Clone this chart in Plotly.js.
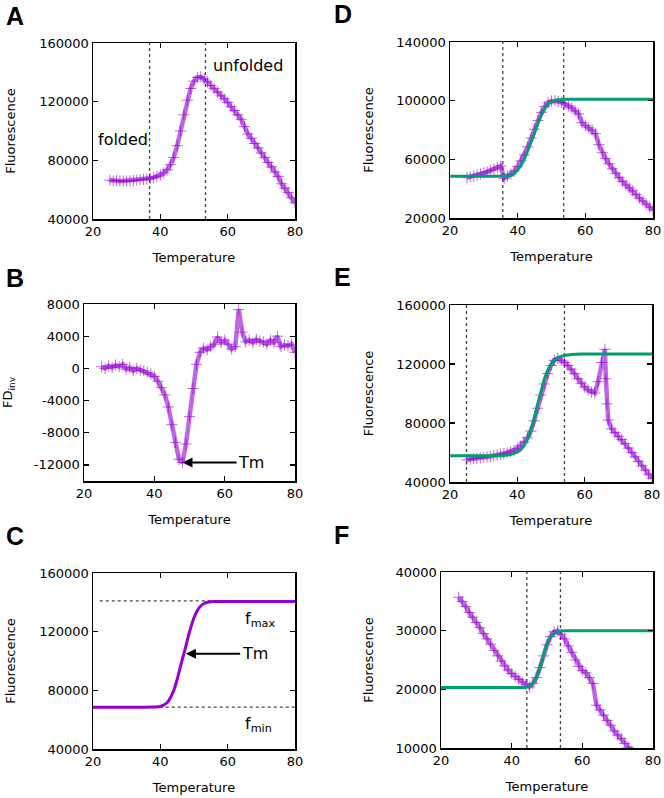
<!DOCTYPE html>
<html>
<head>
<meta charset="utf-8">
<script src="https://cdn.plot.ly/plotly-3.0.1.min.js"></script>
<style>
  html, body { margin: 0; padding: 0; background: #fff; }
  #chart { width: 664px; height: 798px; }
</style>
</head>
<body>
<div id="chart"></div>
<script>
// temperatures of the melt scan (deg C)
const tempScan = [25, 26, 27, 28, 29, 30, 31, 32, 33, 34, 35, 36, 37, 38, 39, 40, 41, 42, 43, 44, 45, 46, 47, 48, 49, 50, 51, 52, 53, 54, 55, 56, 57, 58, 59, 60, 61, 62, 63, 64, 65, 66, 67, 68, 69, 70, 71, 72, 73, 74, 75, 76, 77, 78, 79, 80];

// A: raw fluorescence
const fluorA = [66500, 66000, 66200, 65800, 66000, 65800, 66000, 66200, 66500, 66800, 67000, 67300, 67800, 68200, 69000, 70000, 71500, 73500, 77000, 82000, 90000, 100000, 111000, 121000, 129000, 134000, 136500, 137000, 135500, 133500, 131000, 129000, 126500, 124000, 122000, 119500, 116500, 114000, 111000, 108000, 103000, 98000, 95000, 91500, 88500, 85000, 82000, 78500, 75500, 72000, 69000, 64000, 61000, 58000, 54500, 51000];
const boundsA = [36.8, 53.4];

// B: inverted first derivative
const fdInv = [200, 0, 300, 100, 400, 200, 500, -100, 100, -300, 0, -200, -300, -500, -700, -1000, -1600, -2400, -3300, -4800, -7000, -9200, -11300, -11700, -9400, -6000, -2500, 500, 2000, 2500, 2300, 2700, 3000, 3900, 3200, 3500, 3000, 2400, 2700, 7300, 4500, 3300, 3500, 3200, 3600, 3400, 3300, 3000, 3500, 3200, 4000, 2700, 2900, 2800, 3000, 2000];
const tmB = 48;

// C: idealised Boltzmann curve
const tempC = [20, 30, 38, 40, 41, 42, 43, 44, 45, 46, 47, 48, 49, 50, 51, 52, 53, 54, 56, 60, 70, 80];
const fluorC = [68500, 68500, 68600, 69000, 70000, 71500, 75000, 80000, 87500, 96500, 105000, 114000, 122500, 129500, 134500, 137500, 139200, 140000, 140500, 140500, 140500, 140500];
const fMax = 141000;
const fMin = 68500;
const tmC = 47.6;
const tmCFluor = 105000;

// D
const fluorD = [47500, 48000, 48500, 49300, 50000, 50800, 51500, 52500, 53300, 54300, 55500, 47000, 48500, 50000, 52000, 55000, 59000, 63000, 68500, 74500, 80500, 86500, 92000, 96000, 98500, 99800, 100000, 99500, 98800, 97800, 96500, 95000, 93000, 91000, 85000, 83000, 81500, 80000, 77500, 70000, 64500, 60500, 57000, 53500, 50500, 47500, 45000, 42500, 40500, 38500, 36000, 33500, 31500, 29500, 27500, 25500];
const fitTemp = [20, 30, 36, 38, 39, 40, 41, 42, 43, 44, 45, 46, 47, 48, 49, 50, 51, 52, 53, 54, 56, 60, 70, 80];
const fitD = [48500, 48500, 48600, 49000, 50500, 53000, 56000, 60500, 66000, 72000, 78000, 84500, 90000, 94500, 97500, 99300, 100200, 100600, 100800, 100900, 101000, 101000, 101000, 101000];
const boundsD = [35.6, 53.6];

// E
const tempE = [25, 26, 27, 28, 29, 30, 31, 32, 33, 34, 35, 36, 37, 38, 39, 40, 41, 42, 43, 44, 45, 46, 47, 48, 49, 50, 51, 52, 53, 54, 55, 56, 57, 58, 59, 60, 61, 62, 63, 64, 65, 66, 66.3, 66.6, 67, 68, 69, 70, 71, 72, 73, 74, 75, 76, 77, 78, 79, 80];
const fluorE = [55000, 55500, 55800, 56000, 56300, 56800, 57000, 57300, 57800, 58300, 58800, 59300, 59800, 60500, 61500, 62800, 64500, 67000, 70000, 74500, 81500, 90000, 99000, 106500, 113500, 119000, 122500, 123800, 122500, 121000, 119000, 116500, 113500, 110000, 107000, 104500, 102500, 101000, 100300, 108000, 121000, 130000, 110000, 93000, 82000, 76000, 73500, 71000, 68800, 66000, 63000, 60000, 57000, 54000, 51000, 48000, 45300, 42500];
const fitE = [57800, 57800, 58000, 58700, 59500, 60500, 62000, 65000, 69000, 75000, 83000, 92500, 101000, 109500, 115500, 119800, 122500, 124200, 125200, 125800, 126500, 126800, 126800, 126800];
const boundsE = [24.9, 54.0];

// F
const fluorF = [35700, 35000, 34100, 33100, 32300, 31400, 30500, 29500, 28600, 27700, 26600, 25700, 24800, 24000, 23300, 22700, 22200, 21700, 21200, 20800, 20400, 21000, 22000, 23700, 25700, 27600, 29000, 29800, 30000, 29400, 28600, 27400, 26300, 25000, 23900, 23200, 22800, 22000, 21000, 17300, 16500, 15600, 14700, 13900, 12900, 12200, 11600, 10800, 10100, 9400, 8700, 8000, 7300, 6700, 6000, 5400];
const fitTempF = [20, 30, 40, 44, 45, 46, 47, 48, 49, 50, 51, 52, 53, 54, 56, 60, 70, 80];
const fitF = [20300, 20300, 20300, 20350, 20500, 21000, 22000, 23700, 25800, 27700, 28900, 29500, 29800, 29950, 30000, 30000, 30000, 30000];
const boundsF = [44.3, 53.8];

// y ranges and ticks per panel
const rangeA = [40000, 160000], ticksA = [40000, 80000, 120000, 160000];
const rangeB = [-14000, 8000], ticksB = [-12000, -8000, -4000, 0, 4000, 8000];
const rangeC = [40000, 160000], ticksC = [40000, 80000, 120000, 160000];
const rangeD = [20000, 140000], ticksD = [20000, 60000, 100000, 140000];
const rangeE = [40000, 160000], ticksE = [40000, 80000, 120000, 160000];
const rangeF = [10000, 40000], ticksF = [10000, 20000, 30000, 40000];
const tempTicks = [20, 40, 60, 80];

const purple = "#9400d3";
const green = "#009e73";
const font = "DejaVu Sans";

function scan(x, y, n) {
  return {
    x: x, y: y, xaxis: "x" + n, yaxis: "y" + n,
    type: "scatter", mode: "lines+markers", showlegend: false,
    line: { color: "rgba(148,0,211,0.6)", width: 4.5 },
    marker: { symbol: "cross-thin-open", size: 8, line: { color: purple, width: 1 } }
  };
}
function fit(x, y, n, color) {
  return {
    x: x, y: y, xaxis: "x" + n, yaxis: "y" + n,
    type: "scatter", mode: "lines", showlegend: false,
    line: { color: color, width: 3, shape: "spline" }
  };
}
function vlines(bounds, range, n) {
  return bounds.map(b => ({
    x: [b, b], y: [range[0], range[1]], xaxis: "x" + n, yaxis: "y" + n,
    type: "scatter", mode: "lines", showlegend: false,
    line: { color: "#444", width: 1.3, dash: "dot" }
  }));
}
function hline(val, n) {
  return {
    x: [22, 80], y: [val, val], xaxis: "x" + n, yaxis: "y" + n,
    type: "scatter", mode: "lines", showlegend: false,
    line: { color: "#444", width: 1.3, dash: "dot" }
  };
}

const data = [
  ...vlines(boundsA, rangeA, ""), scan(tempScan, fluorA, ""),
  scan(tempScan, fdInv, 2),
  hline(fMax, 3), hline(fMin, 3), fit(tempC, fluorC, 3, purple),
  ...vlines(boundsD, rangeD, 4), scan(tempScan, fluorD, 4), fit(fitTemp, fitD, 4, green),
  ...vlines(boundsE, rangeE, 5), scan(tempE, fluorE, 5), fit(fitTemp, fitE, 5, green),
  ...vlines(boundsF, rangeF, 6), scan(tempScan, fluorF, 6), fit(fitTempF, fitF, 6, green)
];

// common axis styling, gnuplot-like frame with inward ticks
function xAxis(dom, anchor) {
  return {
    domain: dom, anchor: anchor, range: [20, 80], tickvals: tempTicks,
    ticks: "inside", ticklen: 5, tickwidth: 1.2, tickcolor: "#000",
    showline: true, linecolor: "#000", linewidth: 1.5, mirror: "ticks",
    showgrid: false, zeroline: false,
    tickfont: { family: font, size: 13, color: "#000" },
    title: { text: "Temperature", font: { family: font, size: 13, color: "#000" }, standoff: 15 }
  };
}
function yAxis(dom, anchor, range, ticks, label, standoff) {
  return {
    domain: dom, anchor: anchor, range: range, tickvals: ticks, ticktext: ticks.map(String),
    ticks: "inside", ticklen: 5, tickwidth: 1.2, tickcolor: "#000",
    showline: true, linecolor: "#000", linewidth: 1.5, mirror: "ticks",
    showgrid: false, zeroline: false,
    tickfont: { family: font, size: 13, color: "#000" },
    title: { text: label, font: { family: font, size: 13, color: "#000" }, standoff: standoff }
  };
}

const W = 664, H = 798;
const xd = (a, b) => [a / W, b / W];
const yd = (top, bottom) => [1 - bottom / H, 1 - top / H];

const annText = { family: font, size: 16, color: "#000" };
function letter(t, x, y) {
  return {
    text: "<b>" + t + "</b>", xref: "paper", yref: "paper", x: x / W, y: 1 - y / H,
    xanchor: "left", yanchor: "middle", showarrow: false,
    font: { family: "Liberation Sans", size: 25, color: "#000" }
  };
}

const layout = {
  width: W, height: H,
  margin: { l: 0, r: 0, t: 0, b: 0 },
  paper_bgcolor: "#fff", plot_bgcolor: "#fff",
  xaxis: xAxis(xd(93, 295), "y"),
  yaxis: yAxis(yd(43, 219), "x", rangeA, ticksA, "Fluorescence", 20),
  xaxis2: xAxis(xd(84, 295), "y2"),
  yaxis2: yAxis(yd(304, 481), "x2", rangeB, ticksB, "FD<sub>inv</sub>", 18),
  xaxis3: xAxis(xd(93, 295), "y3"),
  yaxis3: yAxis(yd(573, 749), "x3", rangeC, ticksC, "Fluorescence", 20),
  xaxis4: xAxis(xd(450, 653), "y4"),
  yaxis4: yAxis(yd(42, 218), "x4", rangeD, ticksD, "Fluorescence", 19),
  xaxis5: xAxis(xd(450, 652), "y5"),
  yaxis5: yAxis(yd(305, 482), "x5", rangeE, ticksE, "Fluorescence", 19),
  xaxis6: xAxis(xd(441, 653), "y6"),
  yaxis6: yAxis(yd(572, 748), "x6", rangeF, ticksF, "Fluorescence", 19),
  annotations: [
    letter("A", 4, 16), letter("B", 4, 278), letter("C", 4, 536),
    letter("D", 332, 14), letter("E", 332, 277), letter("F", 332, 535),
    { text: "folded", xref: "x", yref: "y", x: 36.8, y: 94000, xanchor: "right", showarrow: false, font: annText },
    { text: "unfolded", xref: "x", yref: "y", x: 55, y: 144500, xanchor: "left", showarrow: false, font: annText },
    { text: "Tm", xref: "x2", yref: "y2", x: tmB, y: fdInv[23], axref: "x2", ayref: "y2", ax: 67.5, ay: fdInv[23],
      showarrow: true, arrowhead: 2, arrowsize: 1, arrowwidth: 2, arrowcolor: "#000", font: annText },
    { text: "Tm", xref: "x3", yref: "y3", x: tmC, y: tmCFluor, axref: "x3", ayref: "y3", ax: 68, ay: tmCFluor,
      showarrow: true, arrowhead: 2, arrowsize: 1, arrowwidth: 2, arrowcolor: "#000", font: annText },
    { text: "f<sub>max</sub>", xref: "x3", yref: "y3", x: 64.5, y: 128000, xanchor: "left", showarrow: false, font: annText },
    { text: "f<sub>min</sub>", xref: "x3", yref: "y3", x: 64.5, y: 56500, xanchor: "left", showarrow: false, font: annText }
  ]
};

Plotly.newPlot("chart", data, layout, { staticPlot: true });
</script>
</body>
</html>
